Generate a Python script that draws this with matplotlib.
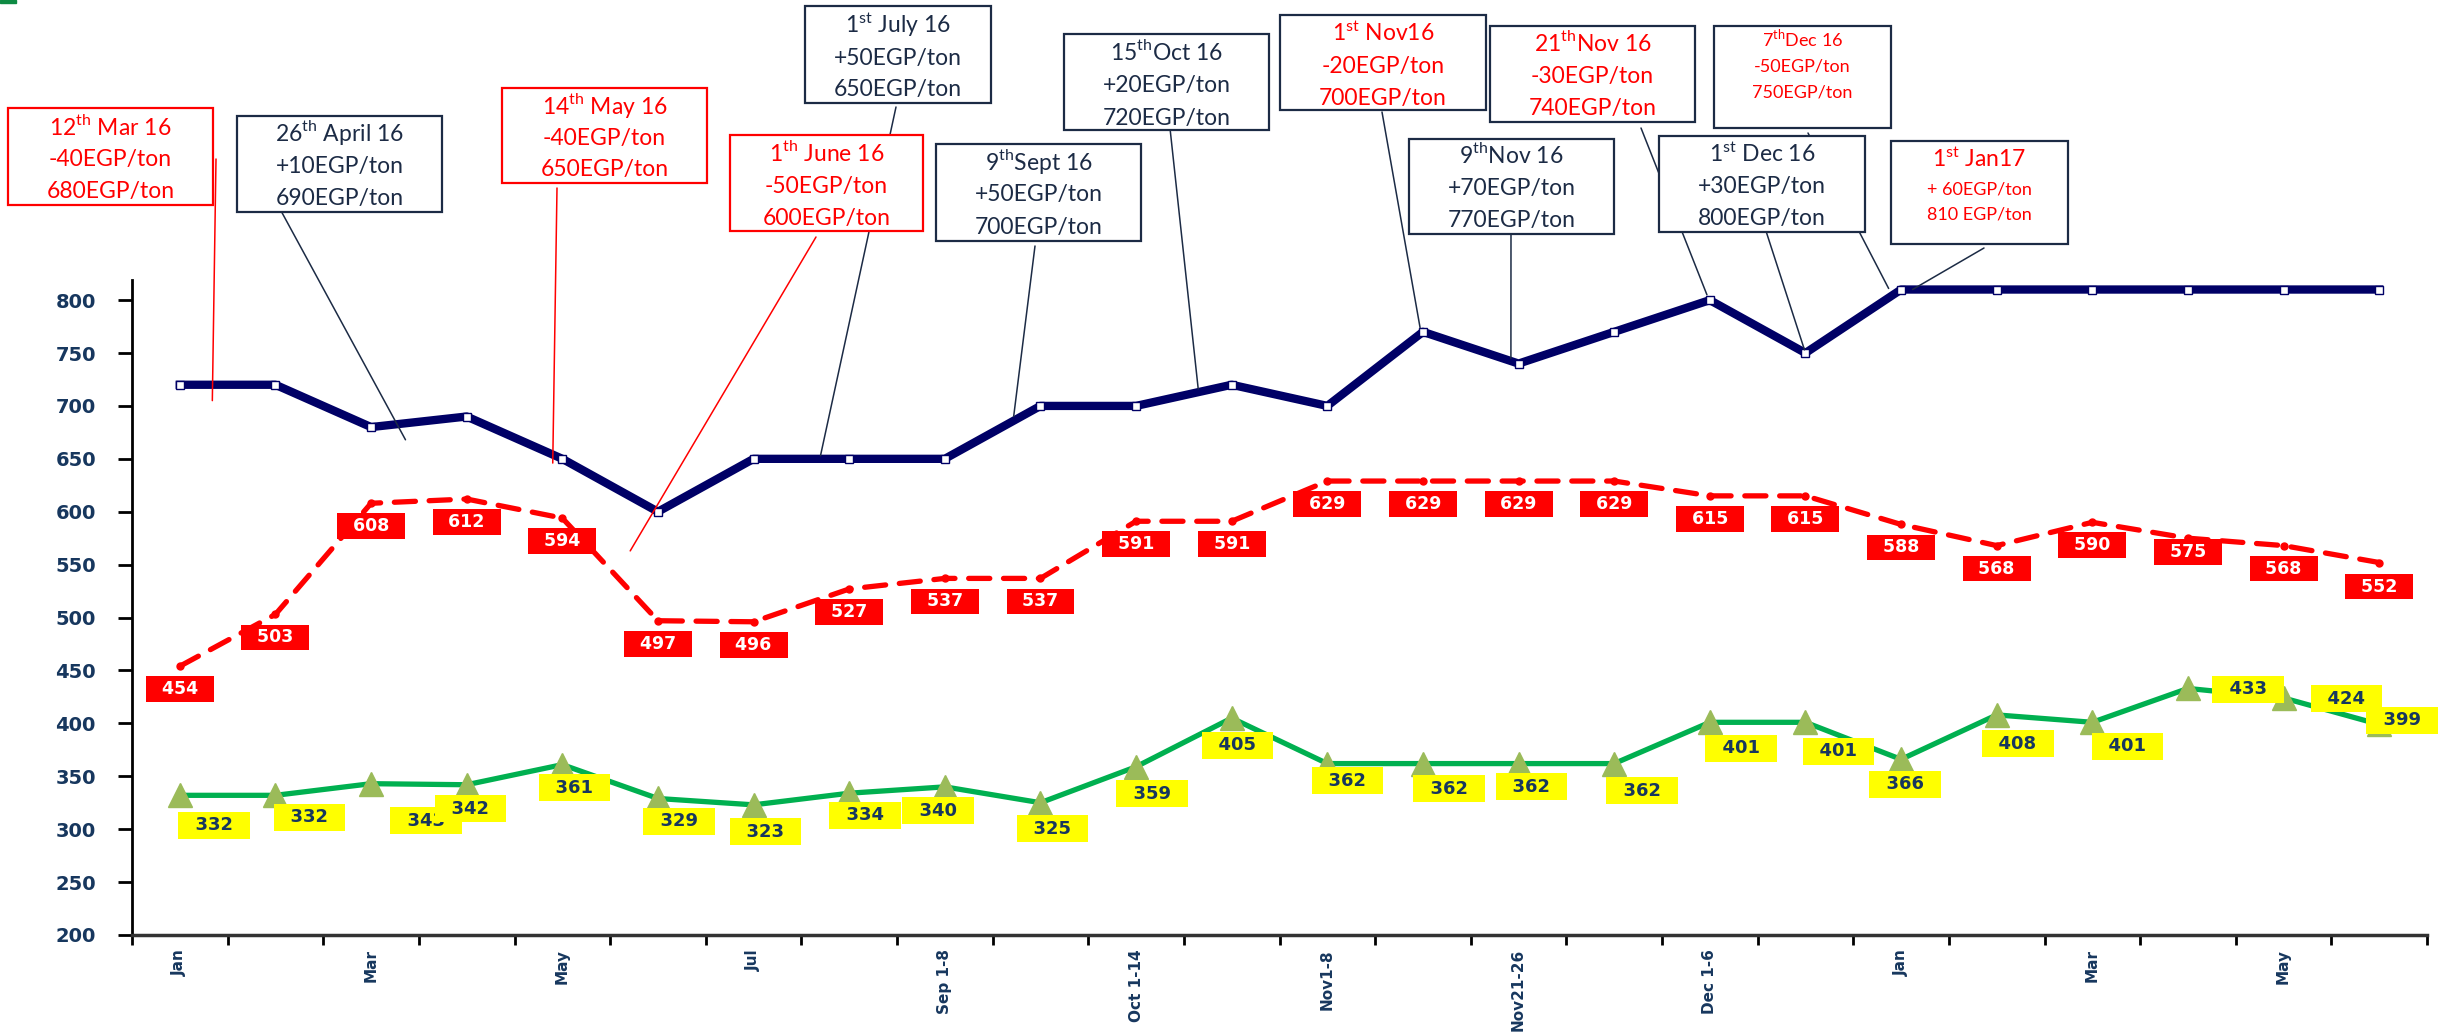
import numpy as np
import matplotlib.pyplot as plt
from matplotlib.transforms import Affine2D
from matplotlib.patches import Rectangle

plt.rcParams['mathtext.fontset'] = 'custom'
plt.rcParams['mathtext.rm'] = 'Lato'

# ---- data ----
tick_labels = ['Jan', '', 'Mar', '', 'May', '', 'Jul', '', 'Sep 1-8', '', 'Oct 1-14', '',
               'Nov1-8', '', 'Nov21-26', '', 'Dec 1-6', '', 'Jan', '', 'Mar', '', 'May', '']
blue = [720, 720, 680, 690, 650, 600, 650, 650, 650, 700, 700, 720,
        700, 770, 740, 770, 800, 750, 810, 810, 810, 810, 810, 810]
red = [454, 503, 608, 612, 594, 497, 496, 527, 537, 537, 591, 591,
       629, 629, 629, 629, 615, 615, 588, 568, 590, 575, 568, 552]
green = [332, 332, 343, 342, 361, 329, 323, 334, 340, 325, 359, 405,
         362, 362, 362, 362, 401, 401, 366, 408, 401, 433, 424, 399]

# callout texts (date, change, new price)
notes = [
    [r'12$^{\mathrm{th}}$ Mar 16', '-40EGP/ton', '680EGP/ton'],
    [r'26$^{\mathrm{th}}$ April 16', '+10EGP/ton', '690EGP/ton'],
    [r'14$^{\mathrm{th}}$ May 16', '-40EGP/ton', '650EGP/ton'],
    [r'1$^{\mathrm{th}}$ June 16', '-50EGP/ton', '600EGP/ton'],
    [r'1$^{\mathrm{st}}$ July 16', '+50EGP/ton', '650EGP/ton'],
    [r'9$^{\mathrm{th}}$Sept 16', '+50EGP/ton', '700EGP/ton'],
    [r'15$^{\mathrm{th}}$Oct 16', '+20EGP/ton', '720EGP/ton'],
    [r'1$^{\mathrm{st}}$ Nov16', '-20EGP/ton', '700EGP/ton'],
    [r'21$^{\mathrm{th}}$Nov 16', '-30EGP/ton', '740EGP/ton'],
    [r'7$^{\mathrm{th}}$Dec 16', '-50EGP/ton', '750EGP/ton'],
    [r'9$^{\mathrm{th}}$Nov 16', '+70EGP/ton', '770EGP/ton'],
    [r'1$^{\mathrm{st}}$ Dec 16', '+30EGP/ton', '800EGP/ton'],
    [r'1$^{\mathrm{st}}$ Jan17', '+ 60EGP/ton', '810 EGP/ton'],
]

# ---- layout ----
W, H = 2438, 1033
navy = '#1C2B45'
tick_col = '#17375E'
RED = '#FF0000'
big, small = 16.5, 13

# box (x0, y0, x1, y1) in image px, line centres, font sizes, text colour, edge colour
boxes = [
    ((8, 108, 213, 205), (127, 158, 190), (big,) * 3, RED, RED),
    ((237, 116, 442, 212), (133, 165, 197), (big,) * 3, navy, navy),
    ((502, 88, 707, 183), (106, 137, 168), (big,) * 3, RED, RED),
    ((730, 135, 923, 231), (153, 185, 217), (big,) * 3, RED, RED),
    ((805, 6, 991, 103), (25, 57, 88), (big,) * 3, navy, navy),
    ((936, 144, 1141, 241), (162, 193, 226), (big,) * 3, navy, navy),
    ((1064, 34, 1269, 130), (52, 84, 117), (big,) * 3, navy, navy),
    ((1280, 15, 1486, 110), (33, 65, 97), (big,) * 3, RED, navy),
    ((1490, 26, 1695, 122), (43, 75, 107), (big,) * 3, RED, navy),
    ((1714, 26, 1891, 128), (40, 65, 91), (small,) * 3, RED, navy),
    ((1409, 139, 1614, 234), (155, 187, 219), (big,) * 3, navy, navy),
    ((1659, 136, 1865, 232), (154, 185, 217), (big,) * 3, navy, navy),
    ((1891, 141, 2068, 244), (159, 188, 213), (big, small, small), RED, navy),
]
# leader line start (image px) and end (data coords)
leader_start = [(216, 159), (280, 209), (557, 188), (816, 237), (896, 107), (1035, 246),
                (1169, 119), (1382, 112), (1641, 128), (1808, 133), (1511, 228),
                (1765, 228), (1984, 248)]
leader_end = [(0.34, 705), (2.36, 668), (3.90, 646), (4.71, 563), (6.70, 653), (8.72, 690),
              (10.65, 716), (12.97, 774), (15.97, 805), (17.87, 811), (13.92, 745),
              (16.99, 753), (18.12, 810)]

# label offsets in px (dx, down)
red_off = [(0, 23)] * 21 + [(0, 14), (0, 23), (0, 24)]
green_off = [(34, 30), (34, 22), (55, 37), (4, 24), (12, 23), (21, 23), (12, 27), (16, 22),
             (-7, 24), (12, 26), (16, 27), (6, 27), (20, 17), (26, 25), (13, 23), (28, 27),
             (31, 26), (33, 29), (4, 25), (21, 29), (35, 24), (60, 1), (63, 1), (23, -4)]

fig = plt.figure(figsize=(W / 100, H / 100), dpi=100)
pxT = Affine2D().scale(1 / 100, -1 / 100).translate(0, H / 100) + fig.dpi_scale_trans
ax = fig.add_axes([132 / W, 1 - 935 / H, (2427 - 132) / W, (935 - 280) / H])

x = np.arange(len(blue))
ax.plot(x, blue, color='#000066', lw=6, marker='s', ms=6, mfc='white', mec='#000066',
        mew=1.0, zorder=3)
ax.plot(x, red, color=RED, lw=3.8, ls=(0, (4, 2.6)), dash_capstyle='round',
        marker='o', ms=5, zorder=3)
ax.plot(x, green, color='#00B050', lw=3.8, zorder=3)
ax.plot(x, green, ls='none', marker='^', ms=17, color='#9BBB59', zorder=4)

for i, v in enumerate(red):
    dx, dy = red_off[i]
    ax.annotate(f'  {v}  ', (i, v), xytext=(dx, -dy), textcoords='offset pixels',
                ha='center', va='center', fontsize=12.5, fontweight='bold', color='white',
                bbox=dict(boxstyle='square,pad=0.22', fc=RED, ec='none'), zorder=6)
for i, v in enumerate(green):
    dx, dy = green_off[i]
    ax.annotate(f'  {v}  ', (i, v), xytext=(dx, -dy), textcoords='offset pixels',
                ha='center', va='center', fontsize=13, fontweight='bold', color=tick_col,
                bbox=dict(boxstyle='square,pad=0.25', fc='#FFFF00', ec='none'), zorder=6)

ax.set_xlim(-0.5, 23.5)
ax.set_ylim(200, 819)
ax.set_yticks(range(200, 801, 50))
ax.set_xticks(np.arange(-0.5, 24, 1))
ax.set_xticks(x, minor=True)
ax.set_xticklabels(tick_labels, minor=True, rotation=90, va='top', ha='center',
                   fontsize=11, fontweight='bold', color=tick_col)
ax.tick_params(axis='x', which='major', length=7, width=2, labelbottom=False)
ax.tick_params(axis='x', which='minor', length=0, pad=10)
ax.tick_params(axis='y', length=10, width=2, pad=16, labelsize=14, labelcolor=tick_col)
for lbl in ax.get_yticklabels():
    lbl.set_fontweight('bold')
for s in ['top', 'right']:
    ax.spines[s].set_visible(False)
ax.spines['left'].set_linewidth(2)
ax.spines['bottom'].set_linewidth(2.5)
ax.spines['bottom'].set_color('#333333')

# callout boxes
for (b, ys, sizes, tc, ec), lines in zip(boxes, notes):
    x0, y0, x1, y1 = b
    fig.add_artist(Rectangle((x0, y0), x1 - x0, y1 - y0, transform=pxT, fc='white',
                             ec=ec, lw=1.6, zorder=5))
    cx = (x0 + x1) / 2
    for s, yc, fs in zip(lines, ys, sizes):
        fig.text(cx, yc + 0.36 * fs * 100 / 72, s, transform=pxT, ha='center', va='baseline',
                 fontsize=fs, color=tc, family='Lato', zorder=6)

for k, (st, en) in enumerate(zip(leader_start, leader_end)):
    c = boxes[k][4]
    ax.annotate('', xy=en, xycoords='data', xytext=st, textcoords=pxT,
                arrowprops=dict(arrowstyle='-', color=c, lw=1.1, shrinkA=0, shrinkB=0),
                annotation_clip=False, zorder=7)

fig.add_artist(Rectangle((0, 0), 16, 3, transform=pxT, color='#0E8A43'))

fig.savefig('out.png', dpi=100)
